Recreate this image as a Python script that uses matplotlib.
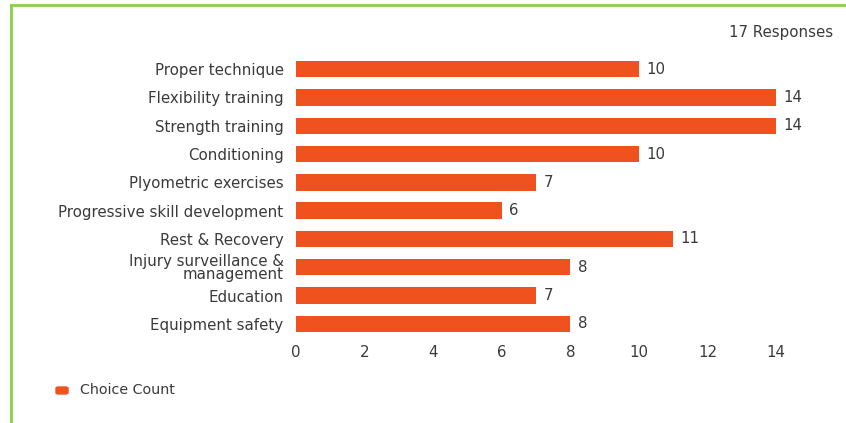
import matplotlib.pyplot as plt
from matplotlib.lines import Line2D
from matplotlib.patches import FancyBboxPatch

categories = ["Proper technique", "Flexibility training", "Strength training",
              "Conditioning", "Plyometric exercises", "Progressive skill development",
              "Rest & Recovery", "Injury surveillance &\nmanagement", "Education",
              "Equipment safety"]
counts = [10, 14, 14, 10, 7, 6, 11, 8, 7, 8]
xticks = [0, 2, 4, 6, 8, 10, 12, 14]

bar_color = "#F0521F"
text_color = "#3a3a3a"
plt.rcParams['font.family'] = ['DejaVu Sans']
fs = 10.8

fig = plt.figure(figsize=(8.46, 4.23), dpi=100)
ax = fig.add_axes([296/846, 1 - 338/423, 480/846, 283/423])

y = list(range(len(categories)))
ax.barh(y, counts, height=0.58, color=bar_color)
for yi, v in zip(y, counts):
    ax.text(v + 0.22, yi, str(v), va="center", ha="left", fontsize=fs, color=text_color)

ax.set_xlim(0, 14)
ax.set_ylim(len(categories) - 0.5, -0.5)
ax.set_yticks(y)
ax.set_yticklabels(categories, fontsize=fs, color=text_color, linespacing=0.88)
ax.set_xticks(xticks)
ax.set_xticklabels([str(t) for t in xticks], fontsize=fs, color=text_color)
ax.tick_params(axis="both", length=0)
ax.tick_params(axis="y", pad=9)
ax.tick_params(axis="x", pad=5)
for s in ax.spines.values():
    s.set_visible(False)

fig.text(833/846, 1 - 32/423, "17 Responses", ha="right", va="center",
         fontsize=fs, color=text_color)

# legend
fig.add_artist(FancyBboxPatch((56/846, 1 - 394/423), 12/846, 7/423,
                              boxstyle="round,pad=0,rounding_size=0.003",
                              transform=fig.transFigure, color=bar_color))
fig.text(80/846, 1 - 390/423, "Choice Count", ha="left", va="center",
         fontsize=10.3, color=text_color)

# green frame (top and left only)
fig.add_artist(Line2D([11/846, 11/846], [0, 1 - 5/423], color="#8CD04A", linewidth=2))
fig.add_artist(Line2D([11/846, 1], [1 - 5/423, 1 - 5/423], color="#8CD04A", linewidth=2))

fig.savefig("out.png", dpi=100)
